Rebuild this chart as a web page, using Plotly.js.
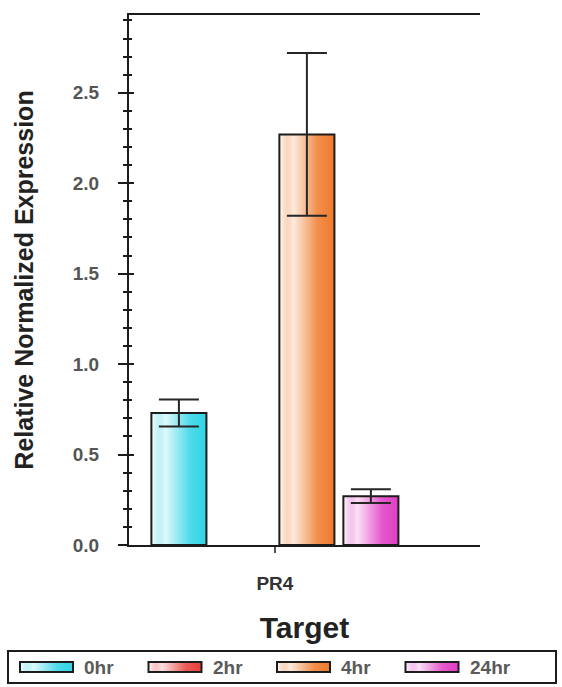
<!DOCTYPE html>
<html><head><meta charset="utf-8">
<script src="https://cdn.plot.ly/plotly-3.0.1.min.js"></script>
<style>html,body{margin:0;padding:0;background:#fff}</style>
</head><body>
<div id="chart" style="width:562px;height:687px"></div>
<script>
// ---- data ----
const targets = ['PR4'];
const seriesNames = ['0hr', '2hr', '4hr', '24hr'];
const values = [0.73, null, 2.27, 0.27];
const errors = [0.075, 0, 0.45, 0.038];
const colors = ['#2fd4e6', '#e8403a', '#ef7a2a', '#e03cc4'];
const yTickVals = [0.0, 0.5, 1.0, 1.5, 2.0, 2.5];
const yTickText = ['0.0', '0.5', '1.0', '1.5', '2.0', '2.5'];

// ---- layout geometry (px) ----
const W = 562, H = 687;
const L = 129, R = 480, T = 15, B = 545;
const pw = R - L, ph = B - T;
const px2x = p => (p - L) / pw;
const px2y = p => (B - p) / ph;

const FONT = '"Liberation Sans", Arial, sans-serif';

const traces = seriesNames.map((name, i) => ({
  type: 'bar',
  name: name,
  x: targets,
  y: [values[i]],
  marker: { color: colors[i], line: { color: '#1c1c1c', width: 2 } },
  error_y: { type: 'data', array: [errors[i]], visible: errors[i] > 0, color: '#262626', thickness: 2, width: 20 },
  showlegend: false,
  hoverinfo: 'skip'
}));

// custom legend (wide swatches like the reference)
const shapes = [{
  type: 'rect', xref: 'paper', yref: 'paper',
  x0: px2x(8), x1: px2x(556), y0: px2y(651), y1: px2y(683),
  line: { color: '#1c1c1c', width: 2 }, fillcolor: 'rgba(0,0,0,0)', layer: 'above'
}];
const annotations = [];
seriesNames.forEach((name, i) => {
  const sx = 20 + i * 128.5;
  shapes.push({
    type: 'rect', xref: 'paper', yref: 'paper',
    x0: px2x(sx), x1: px2x(sx + 53), y0: px2y(662), y1: px2y(672),
    line: { color: '#1c1c1c', width: 2 }, fillcolor: colors[i], layer: 'above'
  });
  annotations.push({
    xref: 'paper', yref: 'paper', x: px2x(sx + 62), y: px2y(667),
    xanchor: 'left', yanchor: 'middle', showarrow: false, text: name,
    font: { family: FONT, size: 19, color: '#5a5a5a', weight: 'bold' }
  });
});

const layout = {
  width: W, height: H,
  margin: { l: L, r: W - R, t: T, b: H - B, pad: 0 },
  paper_bgcolor: '#ffffff', plot_bgcolor: '#ffffff',
  font: { family: FONT, color: '#222' },
  barmode: 'group',
  bargap: 0.2,
  bargroupgap: 0.14,
  showlegend: false,
  xaxis: {
    type: 'category',
    range: [-0.456, 0.641],
    showline: true, linecolor: '#1c1c1c', linewidth: 2, mirror: true,
    ticks: 'outside', ticklen: 6, tickwidth: 2, tickcolor: '#555',
    ticklabelstandoff: 14,
    tickfont: { family: FONT, size: 19, color: '#333', weight: 'bold' },
    showgrid: false, zeroline: false,
    title: { text: 'Target', font: { family: FONT, size: 30, color: '#222', weight: 'bold' }, standoff: 24 }
  },
  yaxis: {
    range: [0, 2.93],
    tickvals: yTickVals, ticktext: yTickText,
    showline: true, linecolor: '#1c1c1c', linewidth: 2,
    ticks: 'outside', ticklen: 9, tickwidth: 2, tickcolor: '#1c1c1c',
    ticklabelstandoff: 15,
    minor: { dtick: 0.1, ticks: 'outside', ticklen: 4, tickwidth: 2, tickcolor: '#1c1c1c', showgrid: false },
    tickfont: { family: FONT, size: 19, color: '#555', weight: 'bold' },
    showgrid: false, zeroline: false,
    title: { text: 'Relative Normalized Expression', font: { family: FONT, size: 25, color: '#222', weight: 'bold' }, standoff: 32 }
  },
  yaxis2: {
    overlaying: 'y', side: 'left', anchor: 'x',
    range: [0, 2.93], tickvals: yTickVals,
    showticklabels: false, showline: false,
    ticks: 'inside', ticklen: 5, tickwidth: 2, tickcolor: '#1c1c1c',
    minor: { dtick: 0.1, ticks: 'inside', ticklen: 3, tickwidth: 2, tickcolor: '#1c1c1c', showgrid: false },
    showgrid: false, zeroline: false
  },
  shapes: shapes,
  annotations: annotations
};

// transparent helper trace so that yaxis2 (inner tick marks) is rendered
traces.push({ type: 'scatter', mode: 'markers', x: targets, y: [0], yaxis: 'y2', marker: { opacity: 0 }, showlegend: false, hoverinfo: 'skip' });

Plotly.newPlot('chart', traces, layout, { staticPlot: true }).then(() => {
  try {
    const svg = document.querySelector('#chart .main-svg');
    const NS = 'http://www.w3.org/2000/svg';
    let defs = svg.querySelector('defs');
    if (!defs) { defs = document.createElementNS(NS, 'defs'); svg.insertBefore(defs, svg.firstChild); }
    colors.forEach((c, i) => {
      const g = document.createElementNS(NS, 'linearGradient');
      g.setAttribute('id', 'bargrad' + i);
      g.setAttribute('x1', '0'); g.setAttribute('x2', '1');
      g.setAttribute('y1', '0'); g.setAttribute('y2', '0');
      [[0, '#ffffff', 1], [0.25, c, 0.15], [0.7, c, 0.85], [1, c, 1]].forEach(([o, col, op]) => {
        const s = document.createElementNS(NS, 'stop');
        s.setAttribute('offset', o);
        s.setAttribute('stop-color', col);
        s.setAttribute('stop-opacity', op);
        g.appendChild(s);
      });
      defs.appendChild(g);
    });
    const barTraces = document.querySelectorAll('#chart .barlayer .trace');
    barTraces.forEach((tr, i) => {
      tr.querySelectorAll('path').forEach(p => { p.style.fill = 'url(#bargrad' + i + ')'; p.style.fillOpacity = 1; });
    });
    const shapePaths = document.querySelectorAll('#chart .shapelayer path');
    shapePaths.forEach(p => {
      const idx = +p.getAttribute('data-index');
      if (idx >= 1 && idx <= colors.length) { p.style.fill = 'url(#bargrad' + (idx - 1) + ')'; p.style.fillOpacity = 1; }
    });
  } catch (e) { console.log(e); }
});
</script>
</body></html>
